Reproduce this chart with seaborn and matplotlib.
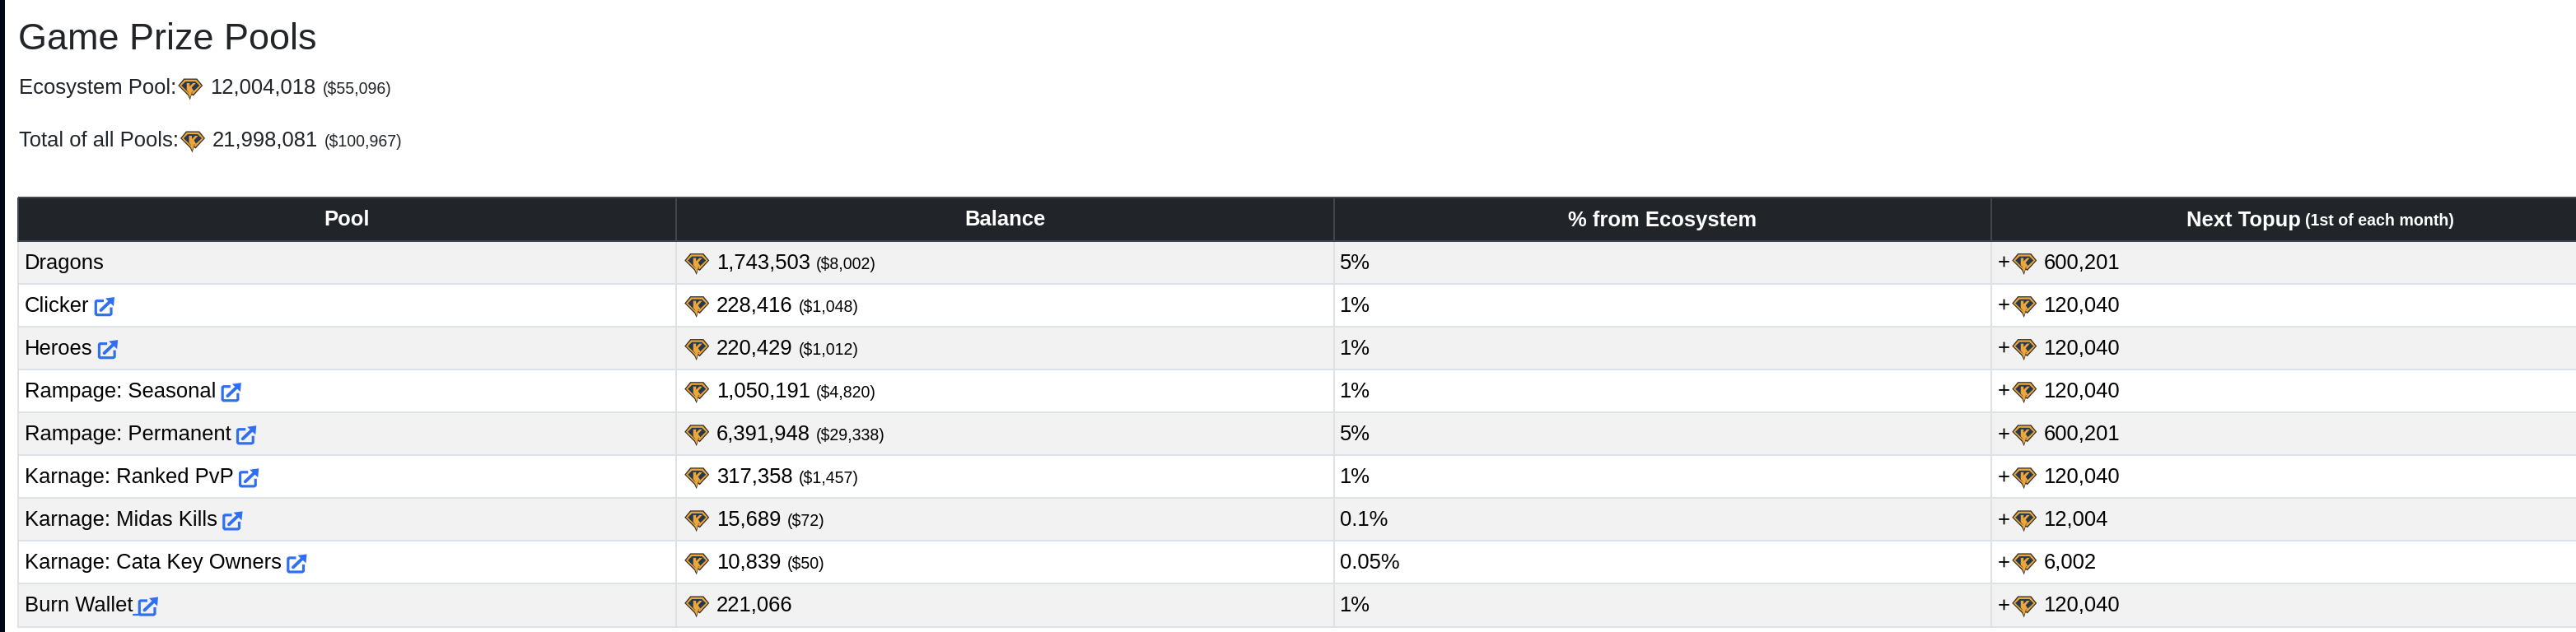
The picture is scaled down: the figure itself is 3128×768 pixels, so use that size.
#!/usr/bin/env python3
import numpy as np
import matplotlib as mpl
mpl.use('Agg')
import matplotlib.pyplot as plt
from matplotlib.colors import ListedColormap
from matplotlib.patches import Polygon
import seaborn as sns

# Data
pool_names = ['Dragons', 'Clicker', 'Heroes', 'Rampage: Seasonal', 'Rampage: Permanent',
              'Karnage: Ranked PvP', 'Karnage: Midas Kills', 'Karnage: Cata Key Owners',
              'Burn Wallet']
has_link = [False, True, True, True, True, True, True, True, True]
balances = [1743503, 228416, 220429, 1050191, 6391948, 317358, 15689, 10839, 221066]
balances_usd = [8002, 1048, 1012, 4820, 29338, 1457, 72, 50, None]
ecosystem_pct = ['5%', '1%', '1%', '1%', '5%', '1%', '0.1%', '0.05%', '1%']
next_topup = [600201, 120040, 120040, 120040, 600201, 120040, 12004, 6002, 120040]
columns = ['Pool', 'Balance', '% from Ecosystem', 'Next Topup']
topup_note = '(1st of each month)'
summary_labels = ['Ecosystem Pool:', 'Total of all Pools:']
summary_values = [12004018, 21998081]
summary_usd = [55096, 100967]

# Layout, in pixels of the output
W, H = 3128, 768
table_left, table_right = 22, 3217
table_top, header_bottom, table_bottom = 239.5, 293, 761.5
col_w = (table_right - table_left) / 4
row_h = (table_bottom - header_bottom) / 9
fs_title, fs_main, fs_small = 45 * .72, 25.6 * .72, 19.6 * .72

c_text = '#212529'
c_head = '#212529'
c_link = '#2f6ff2'

sns.set_theme(style='white')
plt.rcParams['font.family'] = ['Liberation Sans', 'DejaVu Sans']
plt.rcParams['text.hinting'] = 'no_autohint'

fig = plt.figure(figsize=(W / 100, H / 100), dpi=100, facecolor='white')
renderer = fig.canvas.get_renderer()


def box(left, top, right, bottom):
    return [left / W, (H - bottom) / H, (right - left) / W, (bottom - top) / H]


# Table body and header as two heatmaps
stripes = np.array([[(i + 1) % 2] * 4 for i in range(len(pool_names))])
ax_body = fig.add_axes(box(table_left, header_bottom, table_right, table_bottom))
sns.heatmap(stripes, ax=ax_body, cmap=ListedColormap(['#ffffff', '#f2f2f2']), vmin=0, vmax=1,
            cbar=False, linewidths=1.3, linecolor='#dee2e6', xticklabels=False, yticklabels=False)
ax_head = fig.add_axes(box(table_left, table_top, table_right, header_bottom))
sns.heatmap(np.zeros((1, 4)), ax=ax_head, cmap=ListedColormap([c_head]), vmin=0, vmax=1,
            cbar=False, linewidths=1.3, linecolor='#40464d', xticklabels=False, yticklabels=False)
for a in (ax_body, ax_head):
    a.collections[0].set_clip_on(False)

# Pixel overlay for text and icons
ov = fig.add_axes([0, 0, 1, 1], facecolor='none')
ov.set_xlim(0, W)
ov.set_ylim(H, 0)
ov.axis('off')

# dark strip on the left edge
ov.add_patch(plt.Rectangle((0, 0), 6, H, fc='#020817', ec='none'))


def put(x, y, s, size=fs_main, color='#000000', **kw):
    return ov.text(x, y, s, fontsize=size, color=color, va='baseline', **kw)


def end_of(t):
    return t.get_window_extent(renderer).x1


def gem(x, y):
    # K token, 30x26 px
    def poly(pts, fc):
        ov.add_patch(Polygon([(x + a, y + b) for a, b in pts], closed=True, fc=fc, ec='none', zorder=3))
    poly([(7, 0), (23, 0), (30, 8.5), (18.5, 21), (16.5, 19.5), (14.5, 26), (12, 20.5), (0, 8.5)], '#33302a')
    poly([(7.8, 1.3), (22.2, 1.3), (28.4, 8.5), (18.3, 19.2), (16.3, 17.5), (14.5, 23.5), (12.6, 19.2), (1.6, 8.5)],
         '#eda63a')
    poly([(9, 3.6), (21, 3.6), (26, 8.5), (16.5, 17.5), (13, 17.5), (4, 8.5)], '#26384e')
    poly([(10.5, 5.5), (14, 5.5), (14, 9.5), (18, 5.5), (21.5, 5.5), (16.5, 11), (20, 16.5), (16.8, 16),
          (14.5, 23), (13, 17), (10.5, 14)], '#eda63a')


def link_icon(x, y):
    # external link glyph, about 24x23 px
    ov.plot([x + 11, x + 2.4, x + 1.3, x + 1.3, x + 2.4, x + 18.5, x + 20, x + 20],
            [y + 4.5, y + 4.5, y + 5.5, y + 20.5, y + 21.6, y + 21.6, y + 20.5, y + 12.5],
            color=c_link, lw=2.3, solid_capstyle='butt', zorder=3)
    ov.plot([x + 7.5, x + 18.5], [y + 16, y + 5.5], color=c_link, lw=2.8, zorder=3)
    ov.add_patch(Polygon([(x + 13, y + 1.5), (x + 24, y), (x + 23, y + 11)], closed=True,
                         fc=c_link, ec='none', zorder=3))


# Title and summary lines
put(22, 60, 'Game Prize Pools', size=fs_title, color=c_text)
for i, yy in enumerate([114, 178]):
    t = put(23, yy, summary_labels[i], color=c_text)
    xi = end_of(t) + 2
    gem(xi, yy - 18.5)
    t = put(xi + 38.5, yy, f'{summary_values[i]:,}', color=c_text)
    put(end_of(t) + 8.5, yy, f'(${summary_usd[i]:,})', size=fs_small, color=c_text)

# Header row
head_y = table_top + 35
for j, name in enumerate(columns[:3]):
    put(table_left + col_w * (j + .5), head_y, name, color='white', fontweight='bold', ha='center')
t = put(2655, head_y, columns[3], color='white', fontweight='bold')
put(end_of(t) + 5.5, head_y, topup_note, size=fs_small, color='white', fontweight='bold')

# Table rows
col_x = [table_left + col_w * j for j in range(4)]
for i in range(len(pool_names)):
    top = header_bottom + row_h * i
    y = top + 34

    t = put(col_x[0] + 8, y, pool_names[i])
    if has_link[i]:
        link_icon(end_of(t) + 6.5, top + 16)
    if pool_names[i] == 'Burn Wallet':
        ov.plot([end_of(t), end_of(t) + 8], [top + 38, top + 38], color=c_link, lw=1.6, zorder=3)

    gem(col_x[1] + 10.5, top + 15)
    t = put(col_x[1] + 49, y, f'{balances[i]:,}')
    if balances_usd[i] is not None:
        put(end_of(t) + 7.5, y, f'(${balances_usd[i]:,})', size=fs_small)

    put(col_x[2] + 7, y, ecosystem_pct[i])

    put(col_x[3] + 7, y, '+')
    gem(col_x[3] + 25, top + 15)
    put(col_x[3] + 63, y, f'{next_topup[i]:,}')

fig.savefig('out.png', dpi=100, facecolor='white')
